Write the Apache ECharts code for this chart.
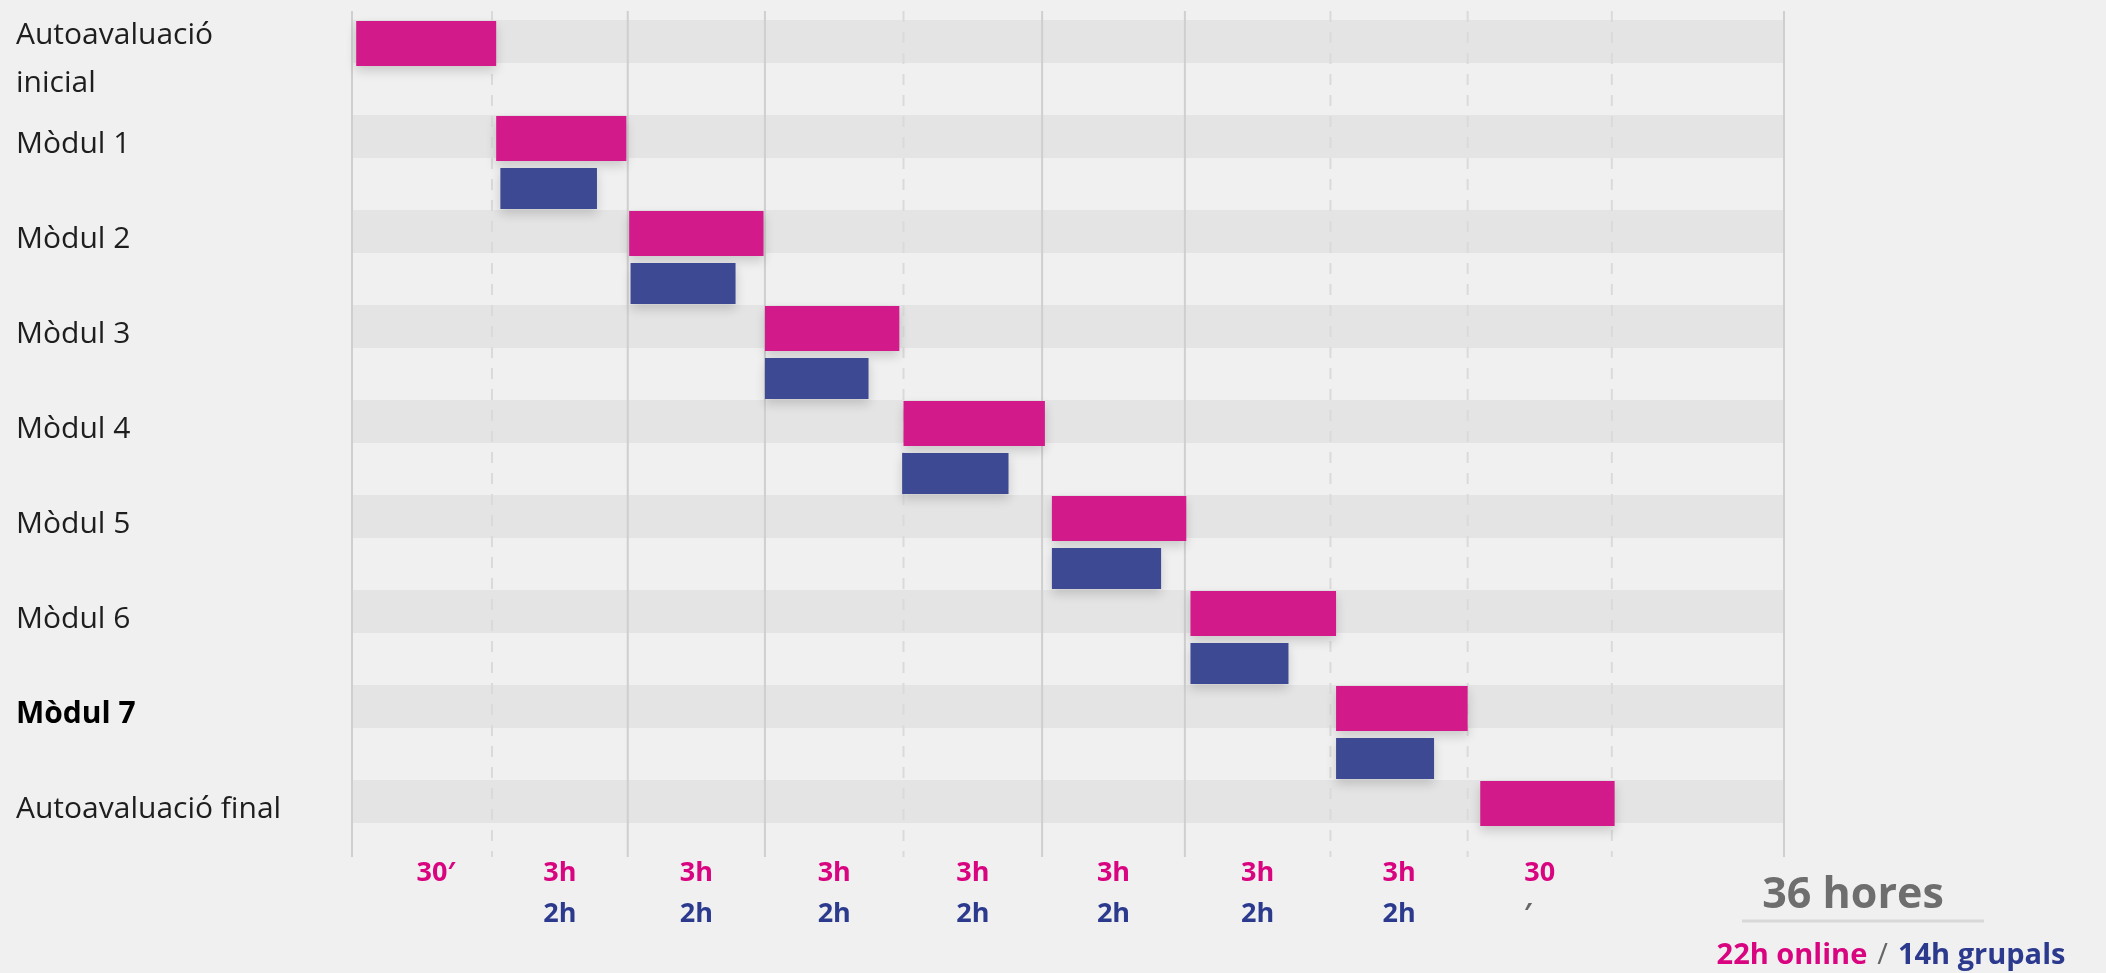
<!DOCTYPE html>
<html>
<head>
<meta charset="utf-8">
<script src="https://cdn.jsdelivr.net/npm/echarts@6/dist/echarts.min.js"></script>
<style>
  html, body { margin: 0; padding: 0; background: #f0f0f0; }
  #chart { width: 2106px; height: 973px; }
</style>
</head>
<body>
<div id="chart"></div>
<script>
// rows of the calendar (top to bottom)
const rowNames = ['Autoavaluació\ninicial', 'Mòdul 1', 'Mòdul 2', 'Mòdul 3', 'Mòdul 4', 'Mòdul 5', 'Mòdul 6', 'Mòdul 7', 'Autoavaluació final']
// positions on the timeline, in column units
const onlineStart = [0.03, 1.03, 1.98, 2.95, 3.94, 5.0, 5.99, 7.03, 8.06]
const onlineEnd = [1.03, 1.96, 2.94, 3.91, 4.95, 5.96, 7.03, 7.97, 9.02]
const groupStart = [null, 1.06, 1.99, 2.95, 3.93, 5.0, 5.99, 7.03, null]
const groupEnd = [null, 1.75, 2.74, 3.69, 4.69, 5.78, 6.69, 7.73, null]
// vertical guides
const gridTicks = [0, 1.0, 1.97, 2.95, 3.94, 4.93, 5.95, 6.99, 7.97, 9.0, 10.23]
const gridDashed = [false, true, false, false, true, false, false, true, true, true, false]
// hours per column
const onlineHours = [0.5, 3, 3, 3, 3, 3, 3, 3, 0.5]
const groupHours = [0, 2, 2, 2, 2, 2, 2, 2, 0]
const onlineLabels = ['30′', '3h', '3h', '3h', '3h', '3h', '3h', '3h', '30']
const groupLabels = ['', '2h', '2h', '2h', '2h', '2h', '2h', '2h', '′']

const PINK = '#d31a8a'
const BLUE = '#3d4a93'
const TEXT_PINK = '#d9047f'
const TEXT_BLUE = '#2c3a8e'
const FONT = '"Open Sans", "Noto Sans", sans-serif'

const totalOnline = onlineHours.reduce((a, b) => a + b, 0)
const totalGroup = groupHours.reduce((a, b) => a + b, 0)

const chart = echarts.init(document.getElementById('chart'))

function barRenderer(offsetTop, height, color) {
  return function (params, api) {
    const row = api.value(2)
    const p0 = api.coord([api.value(0), row])
    const p1 = api.coord([api.value(1), row])
    const band = api.size([0, 1])[1]
    const top = p0[1] - band / 2
    return {
      type: 'rect',
      shape: { x: p0[0], y: top + offsetTop, width: p1[0] - p0[0], height: height },
      style: { fill: color, shadowBlur: 10, shadowOffsetY: 5, shadowColor: 'rgba(0,0,0,0.16)' }
    }
  }
}

const onlineData = rowNames.map((r, i) => [onlineStart[i], onlineEnd[i], i])
const groupData = rowNames
  .map((r, i) => [groupStart[i], groupEnd[i], i])
  .filter((d) => d[0] !== null)
const bandData = rowNames.map((r, i) => [0, gridTicks[gridTicks.length - 1], i])
const lineData = gridTicks.map((v, i) => [v, gridDashed[i] ? 1 : 0])
const labelData = onlineLabels.map((t, i) => [(gridTicks[i] + gridTicks[i + 1]) / 2, i])

// labels sit on the grey band, above the middle of each row
const labelStyle = {
  align: 'left',
  verticalAlign: 'bottom',
  lineHeight: 36,
  fontSize: 30,
  fontFamily: FONT,
  color: '#1e1e1e'
}
const yData = rowNames.map((name, i) => {
  if (i === 0) return { value: name, textStyle: { ...labelStyle, verticalAlign: 'middle', padding: [0, 0, 17, 0] } }
  if (name === 'Mòdul 7') return { value: name, textStyle: { ...labelStyle, fontWeight: 'bold', color: '#000' } }
  return name
})

const option = {
  backgroundColor: '#f0f0f0',
  animation: false,
  grid: { left: 352, right: 322, top: 20, bottom: 98, containLabel: false, outerBoundsMode: 'none' },
  xAxis: {
    type: 'value',
    min: 0,
    max: gridTicks[gridTicks.length - 1],
    show: false
  },
  yAxis: {
    type: 'category',
    inverse: true,
    data: yData,
    axisLine: { show: false },
    axisTick: { show: false },
    splitLine: { show: false },
    axisLabel: {
      ...labelStyle,
      margin: 336,
      hideOverlap: false,
      formatter: (value) => (value.indexOf('\n') > -1 ? value.split('\n').map((s) => '{two|' + s + '}').join('\n') : value),
      rich: {
        two: { fontSize: 30, fontFamily: FONT, color: '#1e1e1e', lineHeight: 48 }
      }
    }
  },
  series: [
    {
      name: 'bands',
      type: 'custom',
      z: 1,
      silent: true,
      clip: false,
      encode: { x: [0, 1], y: 2 },
      data: bandData,
      renderItem: function (params, api) {
        const row = api.value(2)
        const p0 = api.coord([api.value(0), row])
        const p1 = api.coord([api.value(1), row])
        const band = api.size([0, 1])[1]
        return {
          type: 'rect',
          shape: { x: p0[0], y: p0[1] - band / 2, width: p1[0] - p0[0], height: 43 },
          style: { fill: '#e4e4e4' }
        }
      }
    },
    {
      name: 'guides',
      type: 'custom',
      z: 2,
      silent: true,
      clip: false,
      encode: { x: 0 },
      data: lineData,
      renderItem: function (params, api) {
        const x = api.coord([api.value(0), 0])[0]
        const cs = params.coordSys
        const dashed = api.value(1) === 1
        return {
          type: 'line',
          shape: { x1: x, y1: cs.y - 9, x2: x, y2: cs.y + cs.height - 18 },
          style: {
            stroke: dashed ? '#dadada' : '#cfcfcf',
            lineWidth: 2,
            lineDash: dashed ? [11, 10] : null
          }
        }
      }
    },
    {
      name: 'online',
      type: 'custom',
      z: 3,
      clip: false,
      encode: { x: [0, 1], y: 2 },
      data: onlineData,
      renderItem: barRenderer(1, 45, PINK)
    },
    {
      name: 'grupal',
      type: 'custom',
      z: 3,
      clip: false,
      encode: { x: [0, 1], y: 2 },
      data: groupData,
      renderItem: barRenderer(53, 41, BLUE)
    },
    {
      name: 'hours',
      type: 'custom',
      z: 4,
      silent: true,
      clip: false,
      encode: { x: 0 },
      data: labelData,
      renderItem: function (params, api) {
        const i = api.value(1)
        const x = api.coord([api.value(0), 0])[0]
        const cs = params.coordSys
        const base = cs.y + cs.height
        return {
          type: 'group',
          children: [
            {
              type: 'text',
              x: i === 0 ? x + 14 : x,
              y: base - 2,
              style: {
                text: onlineLabels[i],
                fill: TEXT_PINK,
                font: 'bold 27px ' + FONT,
                align: 'center',
                verticalAlign: 'middle'
              }
            },
            {
              type: 'text',
              x: i === 8 ? x - 12 : x,
              y: base + 39,
              style: {
                text: groupLabels[i],
                fill: i === 8 ? '#666' : TEXT_BLUE,
                font: 'bold 27px ' + FONT,
                align: 'center',
                verticalAlign: 'middle'
              }
            }
          ]
        }
      }
    }
  ],
  graphic: [
    {
      type: 'text',
      x: 1853,
      y: 896,
      style: {
        text: (totalOnline + totalGroup) + ' hores',
        fill: '#6e6e6e',
        font: 'bold 43px ' + FONT,
        align: 'center',
        verticalAlign: 'middle'
      }
    },
    {
      type: 'line',
      shape: { x1: 1742, y1: 921, x2: 1984, y2: 921 },
      style: { stroke: '#d8d8d8', lineWidth: 3 }
    },
    {
      type: 'text',
      x: 1891,
      y: 956,
      style: {
        text: '{a|' + totalOnline + 'h online}{s|/}{b|' + totalGroup + 'h grupals}',
        align: 'center',
        verticalAlign: 'middle',
        rich: {
          a: { fill: TEXT_PINK, font: 'bold 29px ' + FONT },
          s: { fill: '#666', font: '29px ' + FONT, padding: [0, 10, 0, 10] },
          b: { fill: TEXT_BLUE, font: 'bold 29px ' + FONT }
        }
      }
    }
  ]
}

chart.setOption(option)
</script>
</body>
</html>
